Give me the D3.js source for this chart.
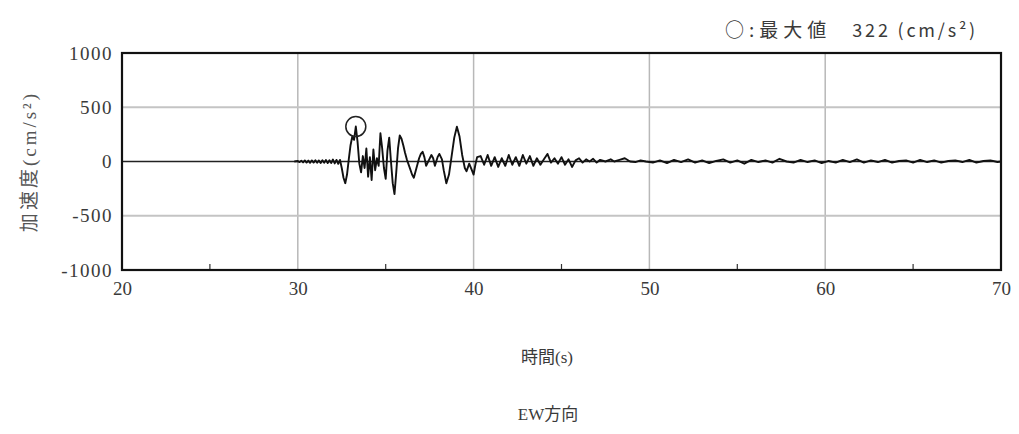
<!DOCTYPE html>
<html><head><meta charset="utf-8">
<script src="https://cdn.jsdelivr.net/npm/d3@7"></script>
<style>
html,body{margin:0;padding:0;background:#fff;}
svg{display:block;}
</style></head>
<body>
<svg id="c" width="1019" height="434"></svg>
<script>
// ---- data ----
const times = [
 29.8,30.0,30.1,30.2,30.3,30.4,30.5,30.6,30.7,30.8,30.9,31.0,31.1,31.2,31.3,31.4,31.5,31.6,31.7,31.8,31.9,
 32.0,32.1,32.2,32.3,32.4,32.5,32.6,32.7,32.8,32.9,
 33.0,33.1,33.2,33.3,33.4,33.5,33.6,33.7,33.8,33.9,34.0,34.1,34.2,34.3,34.4,34.5,34.6,34.7,34.8,34.9,
 35.0,35.1,35.2,35.3,35.4,35.5,35.6,35.7,35.8,35.9,36.0,36.1,36.2,36.35,36.5,36.6,36.75,36.9,
 37.0,37.1,37.2,37.3,37.45,37.6,37.7,37.8,37.95,38.05,38.2,38.3,38.45,38.6,38.75,38.9,
 39.05,39.2,39.35,39.5,39.6,39.75,39.9,40.0,40.1,40.2,40.4,40.6,40.8,41.0,41.2,41.4,41.6,41.8,42.0,42.2,42.4,
 42.6,42.8,43.0,43.2,43.4,43.6,43.8,44.0,44.2,44.4,44.6,44.8,45.0,45.2,45.4,45.6,45.8,46.0,
 46.2,46.4,46.6,46.8,47.0,47.2,47.5,47.8,48.0,48.3,48.6,48.9,49.2,49.5,49.8,50.2,50.6,51.0,
 51.4,51.8,52.2,52.6,53.0,53.4,53.8,54.2,54.6,55.0,55.4,55.8,56.2,56.6,57.0,57.4,57.8,58.2,
 58.6,59.0,59.4,59.8,60.2,60.6,61.0,61.4,61.8,62.2,62.6,63.0,63.4,63.8,64.2,64.6,65.0,65.4,
 65.8,66.2,66.6,67.0,67.4,67.8,68.2,68.6,69.0,69.4,69.8,70.0
];
const accel = [
 0,4,-6,8,-8,10,-10,8,-12,10,-10,12,-12,10,-14,12,-12,14,-15,12,-14,
 18,-18,15,-22,15,-60,-150,-200,-120,20,
 150,230,200,322,180,-20,-100,50,-60,120,-140,40,-170,110,-80,30,-40,260,120,-60,
 -160,100,220,0,-200,-300,-100,120,240,210,150,80,20,-50,-120,-150,-60,30,
 70,90,40,-40,10,60,30,-40,40,70,20,-80,-200,-120,50,220,
 320,230,60,-60,-90,-20,-80,-120,-30,40,50,-30,60,-40,40,-50,30,-40,60,-30,40,
 -40,60,-20,50,-40,30,-30,20,70,-10,30,-20,40,-30,20,-50,10,30,
 -10,20,0,25,-10,15,0,20,0,15,30,0,-5,10,0,-10,10,-15,
 15,-5,20,-10,10,-15,5,20,-10,10,-20,15,-5,10,-10,25,0,-10,
 15,-5,10,-15,5,-10,15,-5,20,-10,10,-5,15,-10,5,10,-10,15,
 -5,10,-10,5,10,-5,15,-10,5,10,-5,0
];
const xTicks = [20,30,40,50,60,70];
const xMinor = [25,35,45,55,65];
const yTicks = [1000,500,0,-500,-1000];
const peakTime = 33.3, peakValue = 322;
const legendLead = "○:最大値";
const legendValue = "322 (cm/s²)";
const xLabel = "時間(s)";
const yLabel = "加速度(cm/s²)";
const title = "EW方向";

// ---- layout ----
const svg = d3.select("#c");
const L = 122, R = 1001, T = 53, B = 270;
const x = d3.scaleLinear().domain([20,70]).range([L,R]);
const y = d3.scaleLinear().domain([-1000,1000]).range([B,T]);
const serif = "'Liberation Serif','DejaVu Serif',serif";
const cjk = "'Liberation Serif','Noto Sans CJK JP',serif";
const txt = "#3a3a3a";

// grid
svg.append("g").selectAll("line").data(xTicks.filter(d=>d>20&&d<70)).join("line")
  .attr("x1",d=>x(d)).attr("x2",d=>x(d)).attr("y1",T).attr("y2",B)
  .attr("stroke","#b8b8b8").attr("stroke-width",1.5);
svg.append("g").selectAll("line").data([500,-500]).join("line")
  .attr("x1",L).attr("x2",R).attr("y1",d=>y(d)).attr("y2",d=>y(d))
  .attr("stroke","#c4c4c4").attr("stroke-width",2);
svg.append("line").attr("x1",L).attr("x2",R).attr("y1",y(0)).attr("y2",y(0))
  .attr("stroke","#222").attr("stroke-width",1.5);

// minor ticks (inside)
svg.append("g").selectAll("line").data(xMinor).join("line")
  .attr("x1",d=>x(d)).attr("x2",d=>x(d)).attr("y1",B).attr("y2",B-6)
  .attr("stroke","#333").attr("stroke-width",1.2);

// axes with labels
const fmt = d => String(d);
const xAxis = d3.axisBottom(x).tickValues(xTicks).tickSize(0).tickPadding(12).tickFormat(fmt);
const gx = svg.append("g").attr("transform",`translate(0,${B})`).call(xAxis);
gx.select(".domain").remove();
gx.selectAll("text").attr("font-family",serif).attr("font-size",19).attr("fill",txt);

const yAxis = d3.axisLeft(y).tickValues(yTicks).tickSize(0).tickPadding(9).tickFormat(fmt);
const gy = svg.append("g").attr("transform",`translate(${L},0)`).call(yAxis);
gy.select(".domain").remove();
gy.selectAll("text").attr("font-family",serif).attr("font-size",19).attr("fill",txt)
  .attr("letter-spacing","1.5px");

// waveform
const line = d3.line().x((d,i)=>x(times[i])).y(d=>y(d));
svg.append("path").datum(accel).attr("d",line)
  .attr("fill","none").attr("stroke","#111").attr("stroke-width",1.9).attr("stroke-linejoin","round");

// peak circle
svg.append("circle").attr("cx",x(peakTime)).attr("cy",y(peakValue)).attr("r",10)
  .attr("fill","none").attr("stroke","#222").attr("stroke-width",1.5);

// frame
svg.append("rect").attr("x",L).attr("y",T).attr("width",R-L).attr("height",B-T)
  .attr("fill","none").attr("stroke","#111").attr("stroke-width",2.2);

// texts
svg.append("text").attr("x",725).attr("y",37).attr("text-anchor","start")
  .attr("font-family","'Noto Sans CJK JP',serif").attr("font-size",19).attr("letter-spacing","5px")
  .attr("fill",txt).text(legendLead);
svg.append("text").attr("x",978).attr("y",37).attr("text-anchor","end")
  .attr("font-family","'Noto Sans CJK JP',serif").attr("font-size",18).attr("letter-spacing","2.8px")
  .attr("fill",txt).text(legendValue);
svg.append("text").attr("transform",`translate(36,${(T+B)/2}) rotate(-90)`).attr("text-anchor","middle")
  .attr("font-family",cjk).attr("font-size",19).attr("letter-spacing","3px").attr("fill","#555").text(yLabel);
svg.append("text").attr("x",547).attr("y",363).attr("text-anchor","middle")
  .attr("font-family",cjk).attr("font-size",17).attr("fill",txt).text(xLabel);
svg.append("text").attr("x",548).attr("y",420).attr("text-anchor","middle")
  .attr("font-family",cjk).attr("font-size",17).attr("fill",txt).text(title);
</script>
</body></html>
